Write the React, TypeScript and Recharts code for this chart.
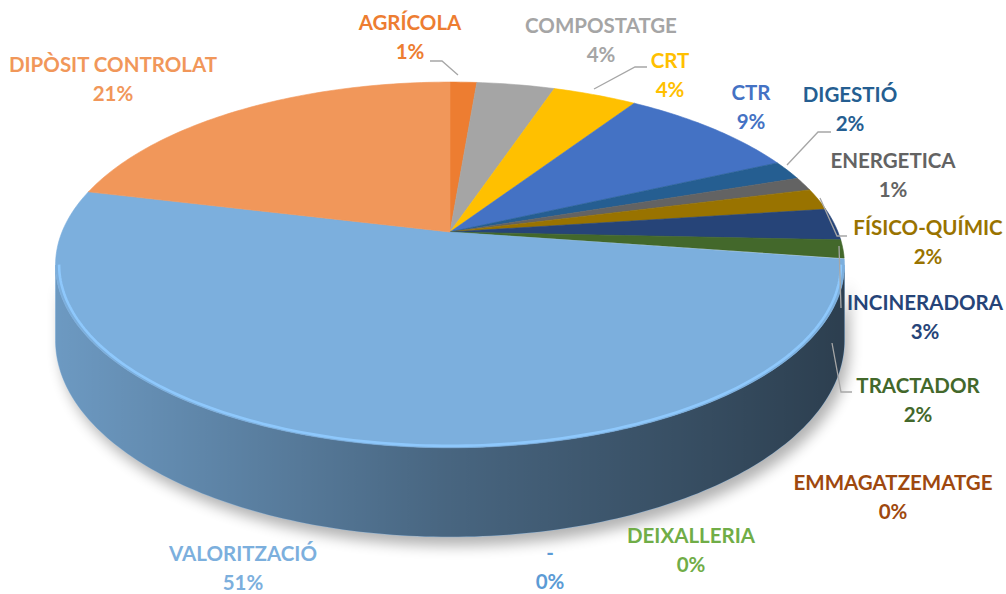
import React from 'react';
import { PieChart, Pie, Cell } from 'recharts';

const NAMES = [
  'AGRÍCOLA', 'COMPOSTATGE', 'CRT', 'CTR', 'DIGESTIÓ', 'ENERGETICA', 'FÍSICO-QUÍMIC',
  'INCINERADORA', 'TRACTADOR', 'EMMAGATZEMATGE', 'DEIXALLERIA', '-', 'VALORITZACIÓ', 'DIPÒSIT CONTROLAT',
];
const SHARES = [1.3, 3.8, 4.1, 8.9, 1.7, 1.2, 1.9, 2.8, 1.6, 0.04, 0.02, 0.01, 51.43, 21.2];
const COLORS = [
  '#ED7D31', '#A5A5A5', '#FFC000', '#4472C4', '#255E91', '#636363', '#997300',
  '#264478', '#43682B', '#9E480E', '#70AD47', '#5B9BD5', '#7CAFDD', '#F1975A',
];

const data = NAMES.map((name, i) => ({ name, value: SHARES[i] }));

// where the data labels sit (x = centre, y = baseline of the name line)
const LABEL_POS = [
  { x: 410, y: 30 }, { x: 601, y: 33 }, { x: 670, y: 68 }, { x: 751, y: 100 },
  { x: 850, y: 102 }, { x: 893, y: 168 }, { x: 928, y: 235 }, { x: 925, y: 310 },
  { x: 918, y: 393 }, { x: 893, y: 490 }, { x: 691, y: 543 }, { x: 550, y: 560 },
  { x: 243, y: 561 }, { x: 113, y: 72 },
];
const LEADERS: Record<number, number[][]> = {
  0: [[430, 61], [442, 61], [458, 75]],
  2: [[647, 67], [635, 67], [594, 89]],
  4: [[831, 132], [818, 132], [787, 165]],
  6: [[847, 236], [837, 236], [820, 198]],
  7: [[841, 308], [839, 246]],
  8: [[852, 392], [841, 392], [832, 343]],
};

// fake 3D: tilted disc seen in perspective
const P = 0.18;
const KY = 0.456;
const DEPTH = 73;
const SIL = (Math.asin(P) * 180) / Math.PI;
const FRONT_LO = -180 + SIL;
const FRONT_HI = -SIL;

function proj(cx: number, cy: number, r: number, deg: number, drop = 0) {
  const a = (deg * Math.PI) / 180;
  const s = Math.sin(a);
  const f = 1 / (1 + P * s);
  return [cx + r * Math.cos(a) * f, cy + (-r * KY * s + drop) * f];
}

function arcPts(cx: number, cy: number, r: number, from: number, to: number, drop = 0) {
  const n = Math.max(1, Math.ceil(Math.abs(to - from)));
  const pts: number[][] = [];
  for (let i = 0; i <= n; i++) pts.push(proj(cx, cy, r, from + ((to - from) * i) / n, drop));
  return pts;
}

const toD = (pts: number[][]) =>
  pts.map((p, i) => (i ? 'L' : 'M') + p[0].toFixed(2) + ',' + p[1].toFixed(2)).join('');

function brighten(hex: string) {
  const n = parseInt(hex.slice(1), 16);
  const c = [(n >> 16) & 255, (n >> 8) & 255, n & 255].map((v) => Math.min(255, Math.round(v * 1.16)));
  return `rgb(${c[0]},${c[1]},${c[2]})`;
}

function range(props: any) {
  const hi = Math.max(props.startAngle, props.endAngle);
  const lo = Math.min(props.startAngle, props.endAngle);
  return [lo, hi];
}

function wallPath(props: any) {
  const { cx, cy, outerRadius: r } = props;
  const [lo, hi] = range(props);
  const a = Math.max(lo, FRONT_LO);
  const b = Math.min(hi, FRONT_HI);
  if (b - a < 0.5) return null;
  return toD([...arcPts(cx, cy, r, b, a), ...arcPts(cx, cy, r, a, b, DEPTH)]) + 'Z';
}

function ShadowShape(props: any) {
  const d = wallPath(props);
  if (!d) return <g />;
  return <path d={d} fill="#000" opacity={0.3} transform="translate(5,9)" filter="url(#pieShadow)" />;
}

function WallShape(props: any) {
  const d = wallPath(props);
  if (!d) return <g />;
  return (
    <g>
      <path d={d} fill={props.fill} stroke={props.fill} strokeWidth={0.6} />
      <path d={d} fill="url(#wallShade)" />
    </g>
  );
}

function TopShape(props: any) {
  const { cx, cy, outerRadius: r, fill } = props;
  const [lo, hi] = range(props);
  if (hi - lo < 0.5) return <g />;
  const d = toD([[cx, cy], ...arcPts(cx, cy, r, hi, lo)]) + 'Z';
  const a = Math.max(lo, FRONT_LO);
  const b = Math.min(hi, FRONT_HI);
  return (
    <g>
      <path d={d} fill={fill} stroke={fill} strokeWidth={0.6} />
      {b > a && (
        <path
          d={toD(arcPts(cx, cy, r * 0.991, b, a))}
          fill="none"
          stroke={brighten(fill)}
          strokeWidth={2.6}
          opacity={0.9}
        />
      )}
    </g>
  );
}

function renderLabel(props: any) {
  const { index, name, percent } = props;
  const pos = LABEL_POS[index];
  const leader = LEADERS[index];
  const font = { fontFamily: 'Lato, sans-serif', fontWeight: 700, fontSize: 20.5 };
  return (
    <g key={`lbl-${index}`}>
      {leader && (
        <polyline
          points={leader.map((p) => p.join(',')).join(' ')}
          fill="none"
          stroke="#A6A6A6"
          strokeWidth={1.3}
        />
      )}
      <text x={pos.x} y={pos.y} textAnchor="middle" fill={COLORS[index]} {...font}>
        {name}
      </text>
      <text x={pos.x} y={pos.y + 29} textAnchor="middle" fill={COLORS[index]} {...font}>
        {`${Math.round(percent * 100)}%`}
      </text>
    </g>
  );
}

const pieProps = {
  data,
  dataKey: 'value',
  nameKey: 'name',
  cx: 445,
  cy: 227,
  outerRadius: 388,
  startAngle: 90,
  endAngle: -270,
  stroke: 'none',
  isAnimationActive: false,
};

export default function App() {
  const cells = data.map((_, i) => <Cell key={`c-${i}`} fill={COLORS[i]} />);
  return (
    <div style={{ position: 'absolute', left: 0, top: 0, width: 1006, height: 594, background: '#fff' }}>
      <svg width={0} height={0} style={{ position: 'absolute' }}>
        <defs>
          <linearGradient id="wallShade" gradientUnits="userSpaceOnUse" x1={50} y1={0} x2={840} y2={0}>
            <stop offset="0" stopColor="#000" stopOpacity={0.12} />
            <stop offset="0.5" stopColor="#000" stopOpacity={0.42} />
            <stop offset="1" stopColor="#000" stopOpacity={0.64} />
          </linearGradient>
          <filter id="pieShadow" x="-20%" y="-50%" width="140%" height="200%">
            <feGaussianBlur stdDeviation={7} />
          </filter>
        </defs>
      </svg>
      <PieChart width={1006} height={594}>
        <Pie {...pieProps} shape={ShadowShape} inactiveShape={ShadowShape} activeShape={ShadowShape} label={false} labelLine={false}>
          {cells}
        </Pie>
        <Pie {...pieProps} shape={WallShape} inactiveShape={WallShape} activeShape={WallShape} label={false} labelLine={false}>
          {cells}
        </Pie>
        <Pie {...pieProps} shape={TopShape} inactiveShape={TopShape} activeShape={TopShape} label={renderLabel} labelLine={false}>
          {cells}
        </Pie>
      </PieChart>
    </div>
  );
}
